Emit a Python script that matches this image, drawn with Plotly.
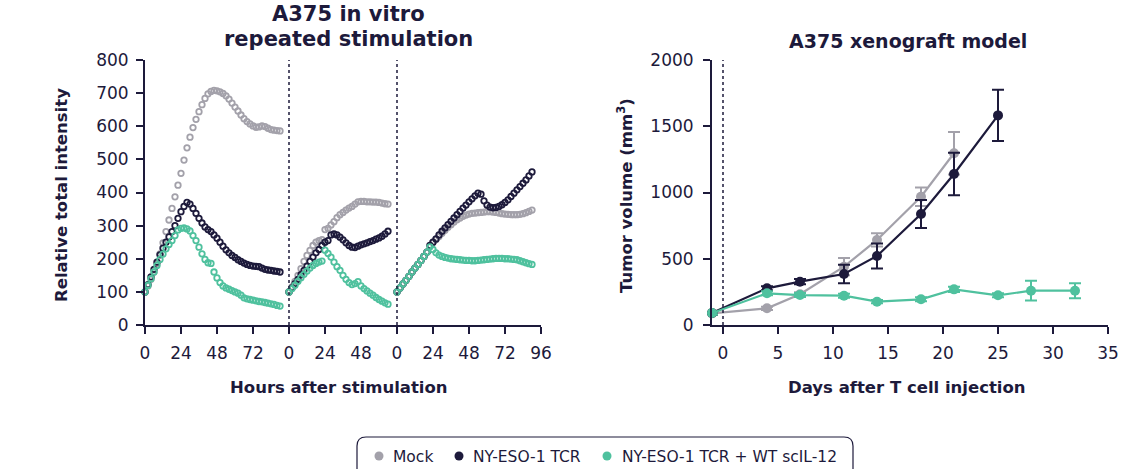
import plotly.graph_objects as go

# ---------------- In vitro repeated stimulation (Incucyte, every 2 h) ----------------
seg_starts = [0, 96, 168]          # hour offsets of the three stimulation rounds
seg_hours = [list(range(0, 91, 2)), list(range(0, 67, 2)), list(range(0, 91, 2))]

mock_s1 = [100, 118, 138, 160, 185, 215, 248, 282, 317, 352, 387, 422, 458, 498, 535, 567,
           596, 621, 644, 665, 684, 698, 705, 708, 707, 704, 699, 692, 682, 670, 658, 646,
           634, 623, 614, 607, 601, 597, 598, 601, 599, 594, 590, 588, 587, 586]
tcr_s1 = [100, 122, 145, 168, 190, 212, 232, 250, 266, 282, 300, 322, 342, 358, 370, 365,
          352, 337, 322, 308, 296, 288, 282, 272, 262, 250, 238, 227, 218, 210, 204, 197,
          192, 187, 183, 180, 178, 177, 176, 172, 168, 166, 165, 163, 162, 160]
il12_s1 = [100, 120, 140, 160, 180, 198, 214, 230, 243, 255, 270, 287, 292, 293, 290, 284,
           270, 255, 235, 215, 198, 188, 186, 160, 142, 128, 118, 112, 108, 104, 100, 96,
           90, 82, 79, 77, 75, 73, 71, 70, 68, 66, 64, 62, 59, 57]

mock_s2 = [100, 115, 132, 150, 170, 192, 210, 225, 240, 250, 255, 258, 288, 292, 302, 312,
           324, 333, 340, 347, 353, 358, 365, 372, 373, 373, 372, 372, 371, 371, 370, 368,
           366, 365]
tcr_s2 = [100, 112, 125, 138, 152, 165, 178, 192, 205, 218, 228, 240, 250, 255, 272, 275,
          272, 265, 257, 248, 240, 235, 234, 238, 242, 245, 248, 252, 255, 259, 263, 268,
          275, 283]
il12_s2 = [100, 110, 120, 132, 143, 153, 163, 172, 180, 186, 190, 193, 226, 216, 205, 190,
           176, 165, 150, 138, 128, 122, 125, 131, 118, 110, 103, 96, 90, 83, 77, 72,
           67, 63]

mock_s3 = [100, 112, 124, 135, 147, 160, 172, 183, 195, 207, 220, 240, 250, 258, 267, 277,
           286, 295, 303, 311, 318, 323, 328, 332, 335, 337, 338, 339, 340, 341, 342, 342,
           341, 340, 338, 336, 335, 334, 333, 333, 333, 334, 336, 339, 343, 347]
tcr_s3 = [100, 112, 124, 135, 147, 160, 172, 183, 195, 207, 220, 240, 250, 260, 272, 283,
          293, 303, 313, 323, 333, 343, 353, 362, 372, 381, 390, 398, 395, 375, 362, 356,
          354, 355, 358, 363, 370, 378, 388, 398, 408, 418, 428, 438, 450, 462]
il12_s3 = [100, 112, 124, 135, 147, 160, 172, 183, 195, 207, 220, 236, 228, 218, 211, 207,
           204, 202, 200, 199, 198, 197, 196, 195, 195, 194, 194, 195, 196, 197, 198, 199,
           200, 201, 201, 201, 200, 200, 199, 198, 197, 194, 191, 188, 185, 183]

hour_tickvals = [0, 24, 48, 72, 96, 120, 144, 168, 192, 216, 240, 264]
hour_ticktext = ["0", "24", "48", "72", "0", "24", "48", "0", "24", "48", "72", "96"]

# ---------------- A375 xenograft tumour growth ----------------
mock_days = [-1, 4, 7, 11, 14, 18, 21]
mock_vol = [88, 126, 232, 440, 642, 968, 1296]
mock_err = [10, 12, 15, 65, 50, 70, 160]

tcr_days = [-1, 4, 7, 11, 14, 18, 21, 25]
tcr_vol = [90, 277, 327, 385, 521, 838, 1140, 1582]
tcr_err = [10, 15, 20, 70, 95, 105, 160, 193]

il12_days = [-1, 4, 7, 11, 14, 18, 21, 25, 28, 32]
il12_vol = [90, 239, 226, 221, 176, 194, 269, 224, 259, 259]
il12_err = [10, 15, 15, 15, 12, 15, 20, 15, 75, 57]

group_names = ["Mock", "NY-ESO-1 TCR", "NY-ESO-1 TCR + WT scIL-12"]

GREY = "#a3a1aa"
NAVY = "#1d1a3b"
GREEN = "#4fc19e"
colors = [GREY, NAVY, GREEN]
FONT = "DejaVu Sans"
W, H = 1125, 469

fig = go.Figure()

invitro = [(mock_s1, mock_s2, mock_s3), (tcr_s1, tcr_s2, tcr_s3), (il12_s1, il12_s2, il12_s3)]
for name, color, segs in zip(group_names, colors, invitro):
    for start, hours, vals in zip(seg_starts, seg_hours, segs):
        fig.add_trace(go.Scatter(
            x=[start + h for h in hours], y=vals, mode="markers", name=name,
            marker=dict(symbol="circle-open", size=5.5, color=color,
                        line=dict(width=1.8, color=color)),
            cliponaxis=False, showlegend=False, xaxis="x", yaxis="y"))

for name, color, d, v, e in zip(group_names, colors, [mock_days, tcr_days, il12_days],
                                [mock_vol, tcr_vol, il12_vol], [mock_err, tcr_err, il12_err]):
    fig.add_trace(go.Scatter(
        x=d, y=v, mode="lines+markers", name=name,
        line=dict(color=color, width=2.2),
        marker=dict(size=10, color=color),
        error_y=dict(type="data", array=e, visible=True, color=color, thickness=2, width=6),
        cliponaxis=False, showlegend=False, xaxis="x2", yaxis="y2"))

axis_common = dict(showline=True, linecolor=NAVY, linewidth=2, ticks="outside", ticklen=7,
                   tickwidth=2, tickcolor=NAVY, showgrid=False, zeroline=False,
                   automargin=False, tickfont=dict(family=FONT, size=17, color=NAVY))

fig.update_layout(
    width=W, height=H,
    margin=dict(l=0, r=0, t=0, b=0, autoexpand=False),
    paper_bgcolor="white", plot_bgcolor="white",
    showlegend=False,
    xaxis=dict(domain=[145 / W, 541 / W], range=[0, 264], tickvals=hour_tickvals,
               ticktext=hour_ticktext, anchor="y", ticklabelstandoff=5, **axis_common),
    yaxis=dict(domain=[1 - 325 / H, 1 - 60 / H], range=[0, 800], dtick=100, anchor="x",
               ticklabelstandoff=4, **axis_common),
    xaxis2=dict(domain=[712 / W, 1108 / W], range=[-1, 35], dtick=5, anchor="y2",
                ticklabelstandoff=5, **axis_common),
    yaxis2=dict(domain=[1 - 325 / H, 1 - 60 / H], range=[0, 2000], dtick=500, anchor="x2",
                ticklabelstandoff=6, **axis_common),
)

# stimulation boundaries and day of T cell injection
for hx in [96, 168]:
    fig.add_shape(type="line", xref="x", yref="y", x0=hx, x1=hx, y0=0, y1=800,
                  line=dict(color=NAVY, width=1.5, dash="dot"))
fig.add_shape(type="line", xref="x2", yref="y2", x0=0, x1=0, y0=0, y1=2000,
              line=dict(color=NAVY, width=1.5, dash="dot"))


def px(x):
    return x / W


def py(y):
    return 1 - y / H


# legend: rounded frame, coloured dots and labels
x0, x1, y0, y1, r = 357, 853, 437, 480, 9
path = (f"M {px(x0)},{py(y1)} L {px(x0)},{py(y0 + r)} Q {px(x0)},{py(y0)} {px(x0 + r)},{py(y0)} "
        f"L {px(x1 - r)},{py(y0)} Q {px(x1)},{py(y0)} {px(x1)},{py(y0 + r)} L {px(x1)},{py(y1)}")
fig.add_shape(type="path", xref="paper", yref="paper", path=path,
              line=dict(color=NAVY, width=1.2))

legend_dot_x = [379, 459, 607]
legend_text_x = [391, 471, 620]
for name, color, dx, tx in zip(group_names, colors, legend_dot_x, legend_text_x):
    fig.add_shape(type="circle", xref="paper", yref="paper", x0=px(dx - 4.5), x1=px(dx + 4.5),
                  y0=py(456 + 4.5), y1=py(456 - 4.5), fillcolor=color, line=dict(width=0))
    fig.add_annotation(text=name, xref="paper", yref="paper", x=px(tx), y=py(457),
                       showarrow=False, xanchor="left", yanchor="middle",
                       font=dict(family=FONT, size=15.5, color=NAVY))


def label(text, x, y, size, angle=0):
    fig.add_annotation(text=text, xref="paper", yref="paper", x=px(x), y=py(y),
                       showarrow=False, textangle=angle, xanchor="center", yanchor="middle",
                       font=dict(family=FONT, size=size, color=NAVY))


label("<b>A375 in vitro</b>", 348, 14, 21)
label("<b>repeated stimulation</b>", 348, 39, 21)
label("<b>A375 xenograft model</b>", 908, 41, 19)
label("<b>Relative total intensity</b>", 62, 195, 16.5, -90)
label("<b>Hours after stimulation</b>", 339, 387, 16.5)
label("<b>Tumor volume (mm<sup>3</sup>)</b>", 625, 196, 16.5, -90)
label("<b>Days after T cell injection</b>", 907, 387, 16.5)

fig.write_html("out.html")
